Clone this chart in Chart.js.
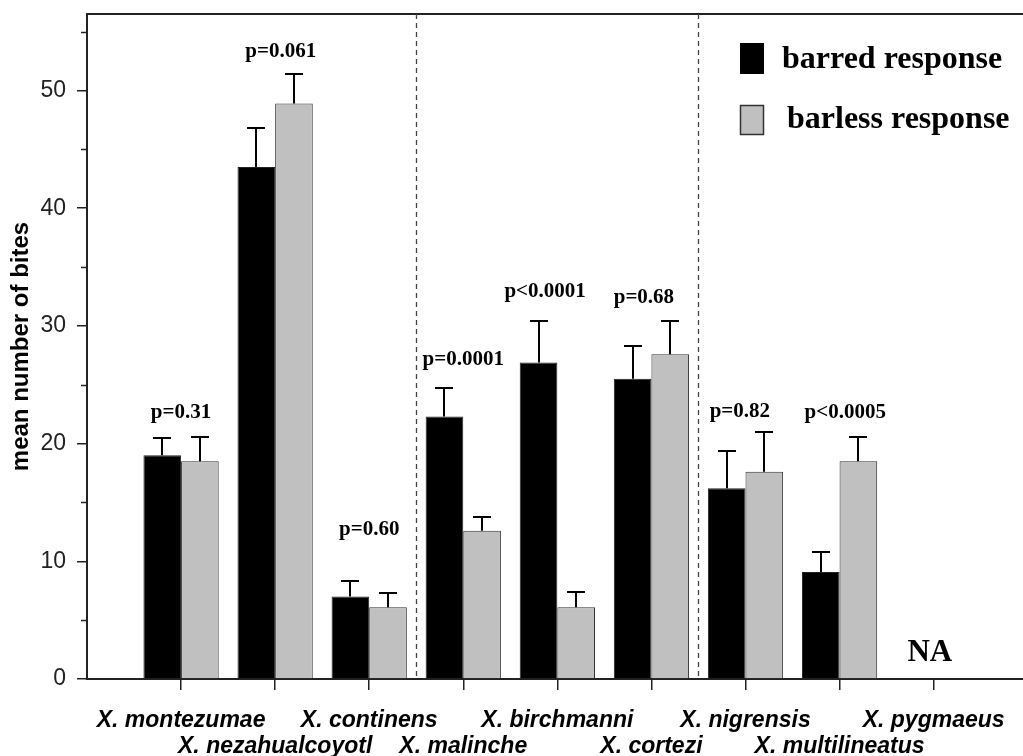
<!DOCTYPE html>
<html><head><meta charset="utf-8">
<script src="https://cdn.jsdelivr.net/npm/chart.js@4"></script>
<style>html,body{margin:0;padding:0;background:#fff;overflow:hidden}</style>
</head><body>
<canvas id="c" width="1023" height="756"></canvas>
<script>
const species = ['X. montezumae','X. nezahualcoyotl','X. continens','X. malinche','X. birchmanni','X. cortezi','X. nigrensis','X. multilineatus','X. pygmaeus'];
const barred = [19.0, 43.5, 7.0, 22.3, 26.9, 25.5, 16.2, 9.1, null];
const barless = [18.5, 48.9, 6.1, 12.6, 6.1, 27.6, 17.6, 18.5, null];
const barredSE = [1.5, 3.3, 1.3, 2.4, 3.5, 2.8, 3.2, 1.7, null];
const barlessSE = [2.1, 2.5, 1.2, 1.2, 1.3, 2.8, 3.4, 2.1, null];
const pLabels = ['p=0.31','p=0.061','p=0.60','p=0.0001','p<0.0001','p=0.68','p=0.82','p<0.0005', 'NA'];
// annotation anchors, in data units (category index, bites)
const pLabelAt = [0, 1.06, 2, 3.0, 3.87, 4.92, 5.94, 7.06, 7.96];
const pLabelLevels = [22.6, 53.3, 12.7, 27.1, 32.9, 32.4, 22.7, 22.6, 2.2];
const yMajorTicks = [0, 10, 20, 30, 40, 50];
const yMinorTicks = [5, 15, 25, 35, 45, 55];
const groupDividers = [2.5, 5.5];
const seriesNames = ['barred response', 'barless response'];

const toPoints = arr => arr.map((v, i) => ({x: i, y: v}));

const extras = {
  id: 'extras',
  afterDatasetsDraw(chart) {
    const {ctx, chartArea: ca, scales: {x, y}} = chart;
    ctx.save();
    // top frame line
    ctx.strokeStyle = '#222'; ctx.lineWidth = 2;
    ctx.beginPath(); ctx.moveTo(ca.left - 1, ca.top); ctx.lineTo(ca.right, ca.top); ctx.stroke();
    // minor y ticks
    ctx.lineWidth = 1.5;
    yMinorTicks.forEach(v => {
      const py = Math.round(y.getPixelForValue(v)) + 0.5;
      ctx.beginPath(); ctx.moveTo(ca.left - 6, py); ctx.lineTo(ca.left, py); ctx.stroke();
    });
    // dashed dividers
    ctx.setLineDash([5, 4]); ctx.lineWidth = 1.3; ctx.strokeStyle = '#444';
    groupDividers.forEach(d => {
      const px = Math.round(x.getPixelForValue(d)) + 0.5;
      ctx.beginPath(); ctx.moveTo(px, ca.top); ctx.lineTo(px, ca.bottom); ctx.stroke();
    });
    ctx.setLineDash([]);
    // error bars
    [[0, barred, barredSE], [1, barless, barlessSE]].forEach(([di, vals, se]) => {
      const meta = chart.getDatasetMeta(di);
      meta.data.forEach((bar, i) => {
        if (vals[i] == null || se[i] == null) return;
        const base = y.getPixelForValue(vals[i]);
        const top = Math.round(y.getPixelForValue(vals[i] + se[i]));
        const bx = Math.round(bar.x);
        ctx.strokeStyle = '#000'; ctx.lineWidth = 2;
        ctx.beginPath();
        ctx.moveTo(bx, base); ctx.lineTo(bx, top);
        ctx.moveTo(bx - 9, top); ctx.lineTo(bx + 9, top);
        ctx.stroke();
      });
    });
    // p-value labels and NA
    ctx.fillStyle = '#000';
    ctx.textAlign = 'center'; ctx.textBaseline = 'middle';
    pLabels.forEach((t, i) => {
      const big = t === 'NA';
      ctx.font = 'bold ' + (big ? 31 : 21) + 'px "Liberation Serif", "Times New Roman", serif';
      ctx.fillText(t, x.getPixelForValue(pLabelAt[i]), y.getPixelForValue(pLabelLevels[i]));
    });
    // legend
    ctx.textAlign = 'left'; ctx.textBaseline = 'middle';
    ctx.font = 'bold 32px "Liberation Serif", "Times New Roman", serif';
    ctx.fillStyle = '#000';
    ctx.fillRect(740, 43, 24, 31);
    ctx.fillText(seriesNames[0], 782, 60);
    ctx.fillStyle = '#c0c0c0';
    ctx.fillRect(740, 105, 24, 30);
    ctx.strokeStyle = '#333'; ctx.lineWidth = 1.5;
    ctx.strokeRect(740.5, 105.5, 23, 29);
    ctx.fillStyle = '#000';
    ctx.fillText(seriesNames[1], 787, 120);
    ctx.restore();
  }
};

new Chart(document.getElementById('c'), {
  type: 'bar',
  data: {
    datasets: [
      {label: seriesNames[0], data: toPoints(barred), backgroundColor: '#000', borderColor: '#222', borderWidth: 1},
      {label: seriesNames[1], data: toPoints(barless), backgroundColor: '#c0c0c0', borderColor: '#333', borderWidth: 1}
    ]
  },
  options: {
    responsive: false,
    devicePixelRatio: 1,
    animation: false,
    layout: {padding: {top: 14, right: 0, left: 0, bottom: 0}},
    categoryPercentage: 0.8,
    barPercentage: 1.0,
    plugins: {legend: {display: false}, tooltip: {enabled: false}},
    scales: {
      x: {
        type: 'linear',
        min: -1,
        max: 8.95,
        offset: false,
        afterBuildTicks(scale) {
          scale.ticks = species.map((s, i) => ({value: i}));
        },
        afterFit(scale) { scale.height = 77; scale.paddingLeft = 0; scale.paddingRight = 0; scale.paddingTop = 0; scale.paddingBottom = 0; },
        ticks: {
          autoSkip: false,
          maxRotation: 0,
          padding: 18,
          color: '#000',
          font: {family: '"Liberation Sans", Arial, sans-serif', size: 23, weight: 'bold', style: 'italic', lineHeight: 1.12},
          callback: (v) => {
            const i = Math.round(v);
            const s = species[i];
            if (s === undefined) return '';
            return i % 2 === 0 ? [s] : ['', s];
          }
        },
        grid: {drawOnChartArea: false, offset: false, tickLength: 11, color: '#222', lineWidth: 1.5},
        border: {display: true, color: '#222', width: 2}
      },
      y: {
        min: 0,
        max: 56.5,
        afterBuildTicks(scale) {
          scale.ticks = yMajorTicks.map(v => ({value: v}));
        },
        afterFit(scale) { scale.width = 87; scale.paddingTop = 0; scale.paddingBottom = 0; scale.paddingLeft = 0; scale.paddingRight = 0; },
        ticks: {
          padding: 11,
          color: '#222',
          font: {family: '"Liberation Sans", Arial, sans-serif', size: 23}
        },
        grid: {drawOnChartArea: false, tickLength: 10, color: '#222', lineWidth: 1.5},
        border: {display: true, color: '#222', width: 2},
        title: {
          display: true,
          text: 'mean number of bites',
          color: '#000',
          font: {family: '"Liberation Sans", Arial, sans-serif', size: 24, weight: 'bold'},
          padding: {top: 7, bottom: 0}
        }
      }
    }
  },
  plugins: [extras]
});
</script>
</body></html>
